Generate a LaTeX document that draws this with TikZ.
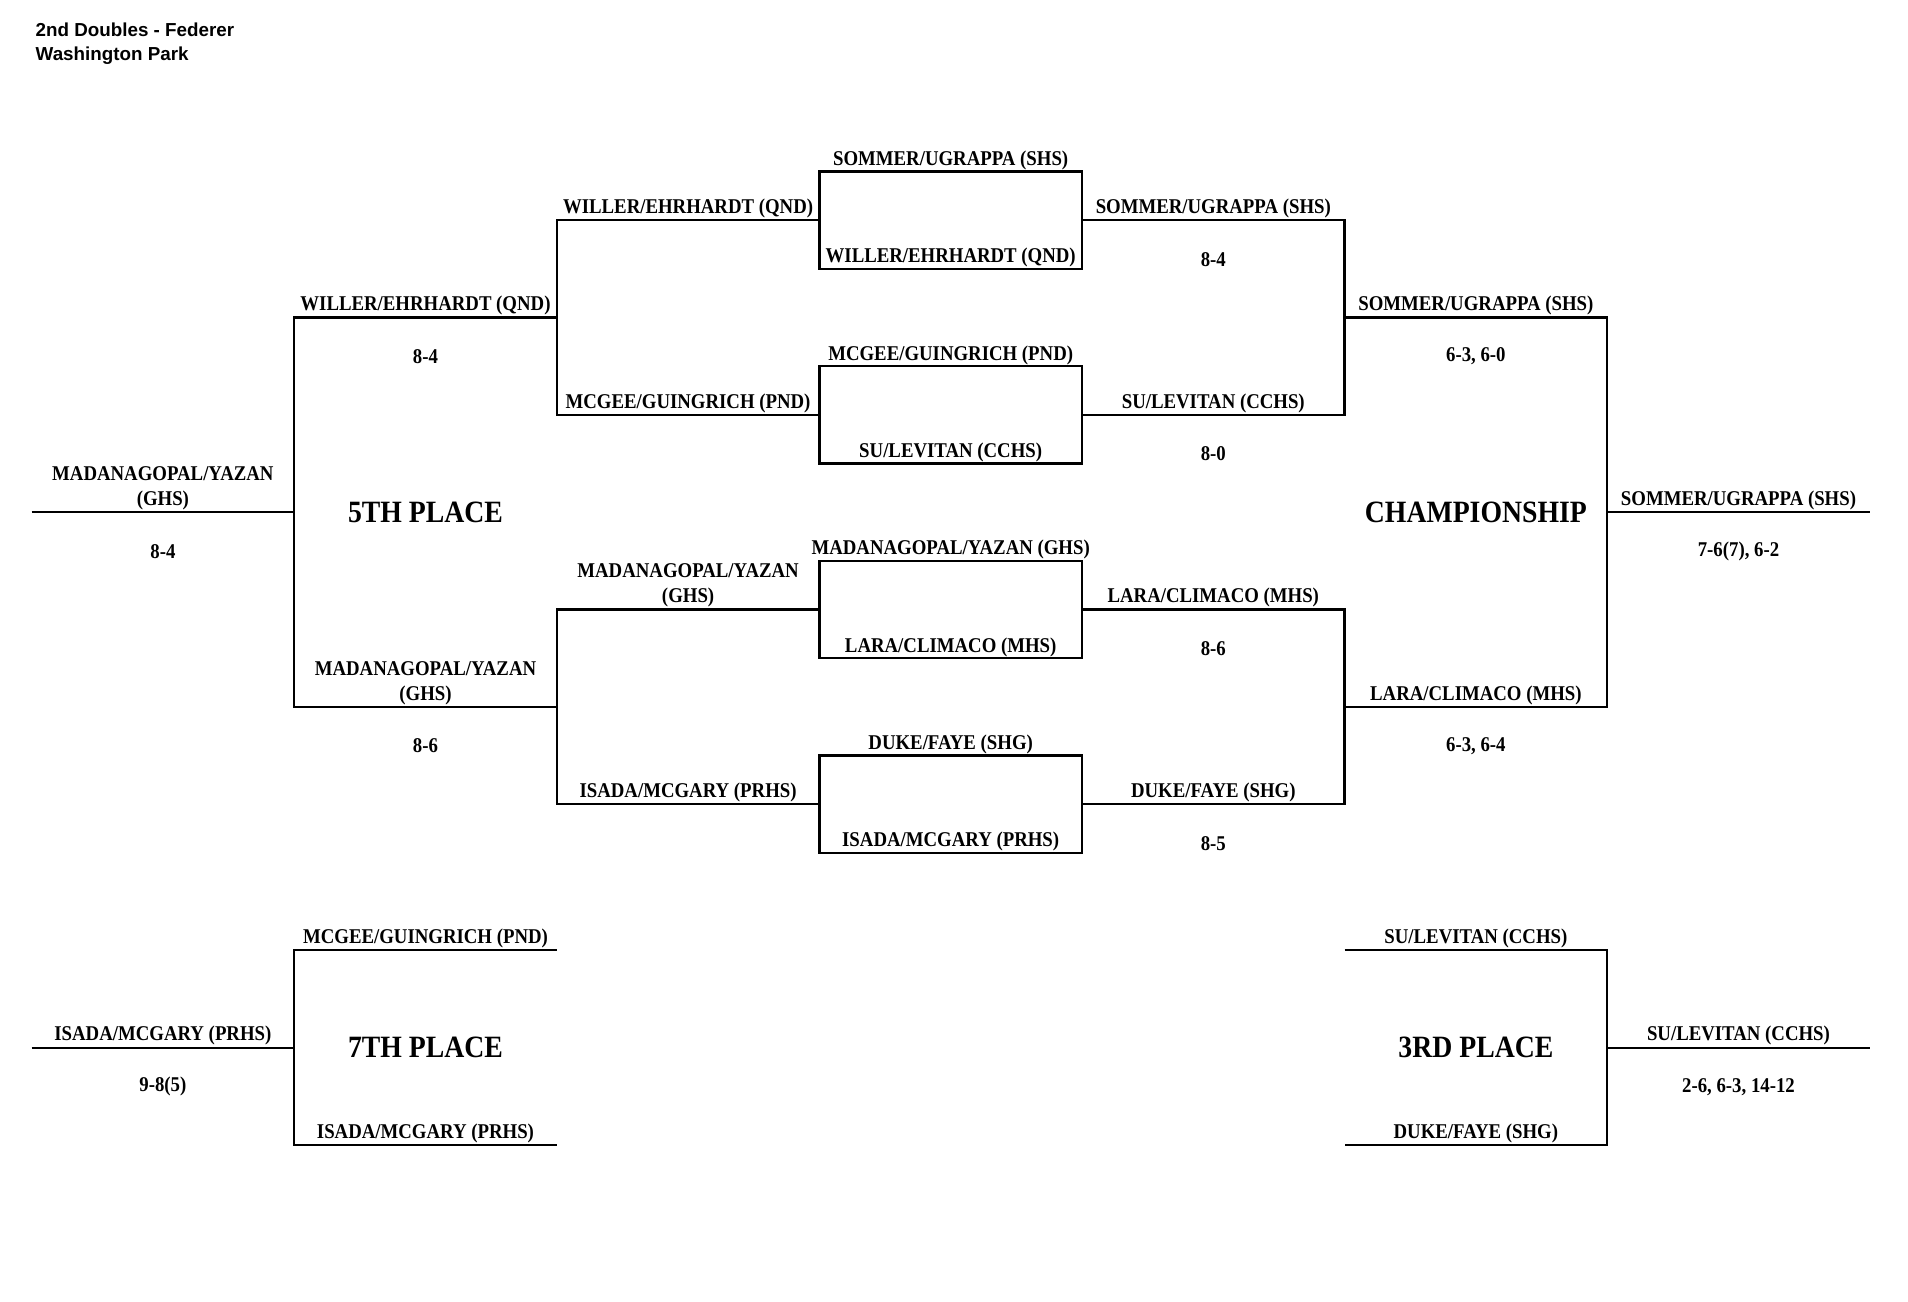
\documentclass[tikz,border=0pt]{standalone}
\usepackage{fontspec}
\setmainfont[FakeStretch=0.895]{Liberation Serif}
\newfontfamily\titlefont{Liberation Sans}
\begin{document}
\begin{tikzpicture}[x=0.5pt,y=-0.5pt,
  br/.style={line width=1.15pt},
  lab/.style={anchor=south,inner sep=0pt,yshift=0.6pt,font=\fontsize{10.5}{12.4}\selectfont\bfseries,align=center},
  score/.style={anchor=center,inner sep=0pt,yshift=-19.5pt,font=\fontsize{10.5}{12.4}\selectfont\bfseries},
  phase/.style={anchor=center,inner sep=0pt,font=\fontsize{15.5}{17}\selectfont\bfseries},
  ttl/.style={anchor=base west,inner sep=0pt,font=\titlefont\fontsize{9.4}{11}\selectfont\bfseries}]
\useasboundingbox (0,0) rectangle (1908,1302);

% title
\node[ttl] (t1) at (35.3,36) {2nd Doubles - Federer};
\node[ttl] (t2) at (35.3,60.5) {Washington Park};

% ---------- coordinates ----------
% column x: 31.6 294.2 556.8 819.4 1082 1344.6 1607.2 1869.8
\coordinate (a0) at (31.6,512.3);
\coordinate (a1) at (294.2,512.3);
\coordinate (f1) at (556.8,317.6);
\coordinate (f2) at (294.2,317.6);
\coordinate (f3) at (294.2,707.0);
\coordinate (f4) at (556.8,707.0);
\coordinate (q1) at (819.4,220.2);
\coordinate (q2) at (556.8,220.2);
\coordinate (q3) at (556.8,414.9);
\coordinate (q4) at (819.4,414.9);
\coordinate (q5) at (819.4,609.6);
\coordinate (q6) at (556.8,609.6);
\coordinate (q7) at (556.8,804.3);
\coordinate (q8) at (819.4,804.3);
\coordinate (r1) at (1082,220.2);
\coordinate (r2) at (1344.6,220.2);
\coordinate (r3) at (1344.6,414.9);
\coordinate (r4) at (1082,414.9);
\coordinate (r5) at (1082,609.6);
\coordinate (r6) at (1344.6,609.6);
\coordinate (r7) at (1344.6,804.3);
\coordinate (r8) at (1082,804.3);
\coordinate (c1) at (1344.6,317.6);
\coordinate (c2) at (1607.2,317.6);
\coordinate (c3) at (1607.2,707.0);
\coordinate (c4) at (1344.6,707.0);
\coordinate (w0) at (1607.2,512.3);
\coordinate (w1) at (1869.8,512.3);
% boxes
\coordinate (b1a) at (819.4,171.6); \coordinate (b1b) at (1082,268.9);
\coordinate (b2a) at (819.4,366.3); \coordinate (b2b) at (1082,463.6);
\coordinate (b3a) at (819.4,561.0); \coordinate (b3b) at (1082,658.3);
\coordinate (b4a) at (819.4,755.6); \coordinate (b4b) at (1082,853.0);
% consolation
\coordinate (s0) at (31.6,1047.7);
\coordinate (s1) at (294.2,1047.7);
\coordinate (s2) at (556.8,950.3);
\coordinate (s3) at (294.2,950.3);
\coordinate (s4) at (294.2,1145.0);
\coordinate (s5) at (556.8,1145.0);
\coordinate (h1) at (1344.6,950.3);
\coordinate (h2) at (1607.2,950.3);
\coordinate (h3) at (1607.2,1145.0);
\coordinate (h4) at (1344.6,1145.0);
\coordinate (h5) at (1607.2,1047.7);
\coordinate (h6) at (1869.8,1047.7);

% ---------- 5th place side ----------
\draw[br] (a0) -- node[lab] (la0) {MADANAGOPAL/YAZAN\\(GHS)} node[score] (sa0) {8-4} (a1);
\draw[br] (f1) -- node[lab] (lf1) {WILLER/EHRHARDT (QND)} node[score] (sf1) {8-4} (f2)
  -- (f3) -- node[lab] (lf3) {MADANAGOPAL/YAZAN\\(GHS)} node[score] (sf3) {8-6} (f4);
\draw[br] (q1) -- node[lab] (lq1) {WILLER/EHRHARDT (QND)} (q2) -- (q3)
  -- node[lab] (lq3) {MCGEE/GUINGRICH (PND)} (q4);
\draw[br] (q5) -- node[lab] (lq5) {MADANAGOPAL/YAZAN\\(GHS)} (q6) -- (q7)
  -- node[lab] (lq7) {ISADA/MCGARY (PRHS)} (q8);
\node[phase] (p5) at (425.5,512.3) {5TH PLACE};

% ---------- middle boxes ----------
\draw[br] (b1a) rectangle (b1b);
\draw[br] (b2a) rectangle (b2b);
\draw[br] (b3a) rectangle (b3b);
\draw[br] (b4a) rectangle (b4b);
\node[lab] (m1t) at (950.7,171.6) {SOMMER/UGRAPPA (SHS)};
\node[lab] (m1b) at (950.7,268.9) {WILLER/EHRHARDT (QND)};
\node[lab] (m2t) at (950.7,366.3) {MCGEE/GUINGRICH (PND)};
\node[lab] (m2b) at (950.7,463.6) {SU/LEVITAN (CCHS)};
\node[lab] (m3t) at (950.7,561.0) {MADANAGOPAL/YAZAN (GHS)};
\node[lab] (m3b) at (950.7,658.3) {LARA/CLIMACO (MHS)};
\node[lab] (m4t) at (950.7,755.6) {DUKE/FAYE (SHG)};
\node[lab] (m4b) at (950.7,853.0) {ISADA/MCGARY (PRHS)};

% ---------- championship side ----------
\draw[br] (r1) -- node[lab] (lr1) {SOMMER/UGRAPPA (SHS)} node[score] (sr1) {8-4} (r2) -- (r3)
  -- node[lab] (lr3) {SU/LEVITAN (CCHS)} node[score] (sr3) {8-0} (r4);
\draw[br] (r5) -- node[lab] (lr5) {LARA/CLIMACO (MHS)} node[score] (sr5) {8-6} (r6) -- (r7)
  -- node[lab] (lr7) {DUKE/FAYE (SHG)} node[score] (sr7) {8-5} (r8);
\draw[br] (c1) -- node[lab] (lc1) {SOMMER/UGRAPPA (SHS)} node[score] (sc1) {6-3, 6-0} (c2) -- (c3)
  -- node[lab] (lc3) {LARA/CLIMACO (MHS)} node[score] (sc3) {6-3, 6-4} (c4);
\draw[br] (w0) -- node[lab] (lw0) {SOMMER/UGRAPPA (SHS)} node[score] (sw0) {7-6(7), 6-2} (w1);
\node[phase] (pc) at (1475.9,512.3) {CHAMPIONSHIP};

% ---------- 7th place ----------
\draw[br] (s0) -- node[lab] (ls0) {ISADA/MCGARY (PRHS)} node[score] (ss0) {9-8(5)} (s1);
\draw[br] (s2) -- node[lab] (ls2) {MCGEE/GUINGRICH (PND)} (s3) -- (s4)
  -- node[lab] (ls4) {ISADA/MCGARY (PRHS)} (s5);
\node[phase] (p7) at (425.5,1047.7) {7TH PLACE};

% ---------- 3rd place ----------
\draw[br] (h1) -- node[lab] (lh1) {SU/LEVITAN (CCHS)} (h2) -- (h3)
  -- node[lab] (lh3) {DUKE/FAYE (SHG)} (h4);
\draw[br] (h5) -- node[lab] (lh5) {SU/LEVITAN (CCHS)} node[score] (sh5) {2-6, 6-3, 14-12} (h6);
\node[phase] (p3) at (1475.9,1047.7) {3RD PLACE};
\end{tikzpicture}
\end{document}
